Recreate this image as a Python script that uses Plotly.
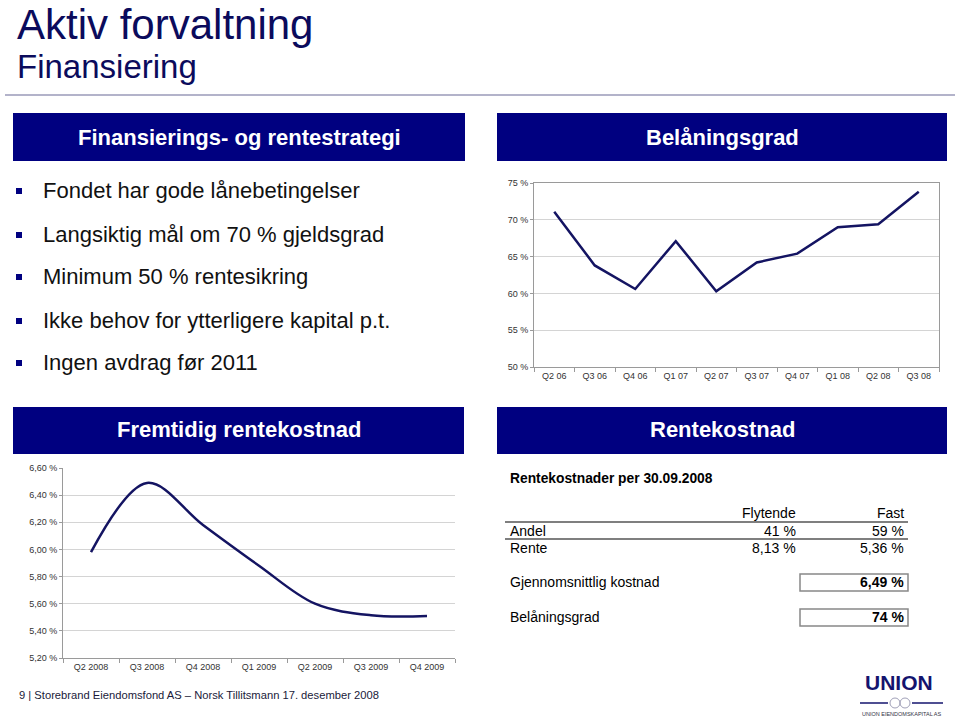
import plotly.graph_objects as go

W, H = 960, 721

# ---------------- data ----------------
belaning_quarters = ["Q2 06", "Q3 06", "Q4 06", "Q1 07", "Q2 07", "Q3 07", "Q4 07", "Q1 08", "Q2 08", "Q3 08"]
belaning_values = [71.1, 63.8, 60.6, 67.1, 60.3, 64.2, 65.4, 69.0, 69.4, 73.8]
belaning_yticks = [50, 55, 60, 65, 70, 75]
belaning_yticktext = ["50 %", "55 %", "60 %", "65 %", "70 %", "75 %"]

rente_quarters = ["Q2 2008", "Q3 2008", "Q4 2008", "Q1 2009", "Q2 2009", "Q3 2009", "Q4 2009"]
rente_values = [5.98, 6.49, 6.18, 5.88, 5.60, 5.515, 5.51]
rente_yticks = [5.2, 5.4, 5.6, 5.8, 6.0, 6.2, 6.4, 6.6]
rente_yticktext = ["5,20 %", "5,40 %", "5,60 %", "5,80 %", "6,00 %", "6,20 %", "6,40 %", "6,60 %"]

bullets = [
    "Fondet har gode lånebetingelser",
    "Langsiktig mål om 70 % gjeldsgrad",
    "Minimum 50 % rentesikring",
    "Ikke behov for ytterligere kapital p.t.",
    "Ingen avdrag før 2011",
]

table_header = "Rentekostnader per 30.09.2008"
table_cols = ["Flytende", "Fast"]
table_rows = ["Andel", "Rente"]
table_flytende = ["41 %", "8,13 %"]
table_fast = ["59 %", "5,36 %"]
avg_cost_label, avg_cost_value = "Gjennomsnittlig kostnad", "6,49 %"
ltv_label, ltv_value = "Belåningsgrad", "74 %"

# ---------------- helpers ----------------
def px(x):
    return x / W

def py(y):
    return 1 - y / H

FONT = "Liberation Sans, Arial, sans-serif"
NAVY = "#000080"
LINE = "#141462"

annotations = []
shapes = []

def text(x, y, s, size, color="#000000", anchor="left", bold=False, family=FONT, yanchor="middle"):
    if bold:
        s = "<b>" + s + "</b>"
    annotations.append(dict(
        x=px(x), y=py(y), xref="paper", yref="paper", text=s, showarrow=False,
        xanchor=anchor, yanchor=yanchor, borderpad=0,
        font=dict(size=size, color=color, family=family)))

def rect(x0, y0, x1, y1, fill=None, line_color=None, lw=0):
    shapes.append(dict(type="rect", xref="paper", yref="paper",
                       x0=px(x0), x1=px(x1), y0=py(y1), y1=py(y0),
                       fillcolor=fill if fill else "rgba(0,0,0,0)",
                       line=dict(color=line_color if line_color else "rgba(0,0,0,0)", width=lw),
                       layer="below"))

def hline(x0, x1, y, color, lw):
    shapes.append(dict(type="line", xref="paper", yref="paper",
                       x0=px(x0), x1=px(x1), y0=py(y), y1=py(y),
                       line=dict(color=color, width=lw)))

# ---------------- figure ----------------
fig = go.Figure()

fig.add_trace(go.Scatter(x=belaning_quarters, y=belaning_values, mode="lines",
                         line=dict(color=LINE, width=2.5), xaxis="x", yaxis="y",
                         showlegend=False, hoverinfo="skip"))
fig.add_trace(go.Scatter(x=rente_quarters, y=rente_values, mode="lines",
                         line=dict(color=LINE, width=2.5, shape="spline", smoothing=1.0),
                         xaxis="x2", yaxis="y2", showlegend=False, hoverinfo="skip"))

tickfont = dict(size=9, color="#333333", family=FONT)

# Title
text(16, 0, "Aktiv forvaltning", 42, color="#0b0b5c", yanchor="top")
text(16, 67, "Finansiering", 33, color="#0b0b5c")
hline(5, 955, 95, "#9a9ab8", 1.5)

# Header boxes
rect(13, 113, 465, 161, fill=NAVY)
rect(497, 113, 947, 161, fill=NAVY)
rect(13, 407, 464, 454, fill=NAVY)
rect(497, 407, 947, 454, fill=NAVY)
text(239, 137, "Finansierings- og rentestrategi", 22, color="white", anchor="center", bold=True)
text(722, 137, "Belåningsgrad", 22, color="white", anchor="center", bold=True)
text(239, 430, "Fremtidig rentekostnad", 22, color="white", anchor="center", bold=True)
text(722, 430, "Rentekostnad", 22, color="white", anchor="center", bold=True)

# Bullets
bullet_y = [190, 234, 276, 320, 362]
for b, yy in zip(bullets, bullet_y):
    rect(16, yy - 2, 22, yy + 4, fill=NAVY)
    text(42, yy, b, 22, color="#111111")

# Table
text(509, 478, table_header, 13.8, bold=True)
text(797, 513, table_cols[0], 14, anchor="right")
text(905, 513, table_cols[1], 14, anchor="right")
hline(505, 908, 522, "#555555", 1.5)
row_y = [531, 548]
for lab, fl, fa, yy in zip(table_rows, table_flytende, table_fast, row_y):
    text(509, yy, lab, 14)
    text(797, yy, fl, 14, anchor="right")
    text(905, yy, fa, 14, anchor="right")
hline(505, 908, 539, "#555555", 1.5)
text(509, 582, avg_cost_label, 14)
rect(800, 574, 908, 591, line_color="#888888", lw=1.5)
text(905, 582, avg_cost_value, 14, bold=True, anchor="right")
text(509, 617, ltv_label, 14)
rect(800, 609, 908, 626, line_color="#888888", lw=1.5)
text(905, 617, ltv_value, 14, bold=True, anchor="right")

# Footer
text(18, 695, "9 | Storebrand Eiendomsfond AS – Norsk Tillitsmann 17. desember 2008", 11.2, color="#1a1a3a")

# Logo
text(899, 682, "UNION", 21, color="#14146e", anchor="center", bold=True)
hline(860, 888, 703, "#14146e", 1.5)
hline(912, 943, 703, "#14146e", 1.5)
shapes.append(dict(type="circle", xref="paper", yref="paper", x0=px(890), x1=px(900),
                   y0=py(708), y1=py(698), line=dict(color="#a0a0b8", width=1)))
shapes.append(dict(type="circle", xref="paper", yref="paper", x0=px(900), x1=px(910),
                   y0=py(708), y1=py(698), line=dict(color="#a0a0b8", width=1)))
text(901, 714, "UNION EIENDOMSKAPITAL AS", 5.5, color="#333344", anchor="center")

fig.update_layout(
    width=W, height=H, margin=dict(l=0, r=0, t=0, b=0, pad=0, autoexpand=False),
    paper_bgcolor="white", plot_bgcolor="white",
    showlegend=False,
    annotations=annotations, shapes=shapes,
    xaxis=dict(domain=[px(534), px(939)], anchor="y", type="category",
               range=[-0.5, len(belaning_quarters) - 0.5], automargin=False,
               showline=True, linecolor="#9a9a9a", linewidth=1, mirror=True,
               ticks="outside", ticklen=4, tickcolor="#9a9a9a", tickson="boundaries",
               showgrid=False, tickfont=tickfont, fixedrange=True),
    yaxis=dict(domain=[py(367), py(183)], anchor="x", range=[50, 75], automargin=False,
               tickvals=belaning_yticks, ticktext=belaning_yticktext,
               showline=True, linecolor="#9a9a9a", linewidth=1, mirror=True,
               ticks="outside", ticklen=3, tickcolor="#9a9a9a",
               showgrid=True, gridcolor="#d4d4d4", gridwidth=1, zeroline=False,
               tickfont=tickfont, fixedrange=True),
    xaxis2=dict(domain=[px(63), px(455)], anchor="y2", type="category",
                range=[-0.5, len(rente_quarters) - 0.5], automargin=False,
                showline=True, linecolor="#9a9a9a", linewidth=1,
                ticks="outside", ticklen=4, tickcolor="#9a9a9a", tickson="boundaries",
                showgrid=False, tickfont=tickfont, fixedrange=True),
    yaxis2=dict(domain=[py(658), py(468)], anchor="x2", range=[5.2, 6.6], automargin=False,
                tickvals=rente_yticks, ticktext=rente_yticktext,
                showline=True, linecolor="#9a9a9a", linewidth=1,
                ticks="outside", ticklen=3, tickcolor="#9a9a9a",
                showgrid=True, gridcolor="#d4d4d4", gridwidth=1, zeroline=False,
                tickfont=tickfont, fixedrange=True),
)

fig.write_html("out.html")
